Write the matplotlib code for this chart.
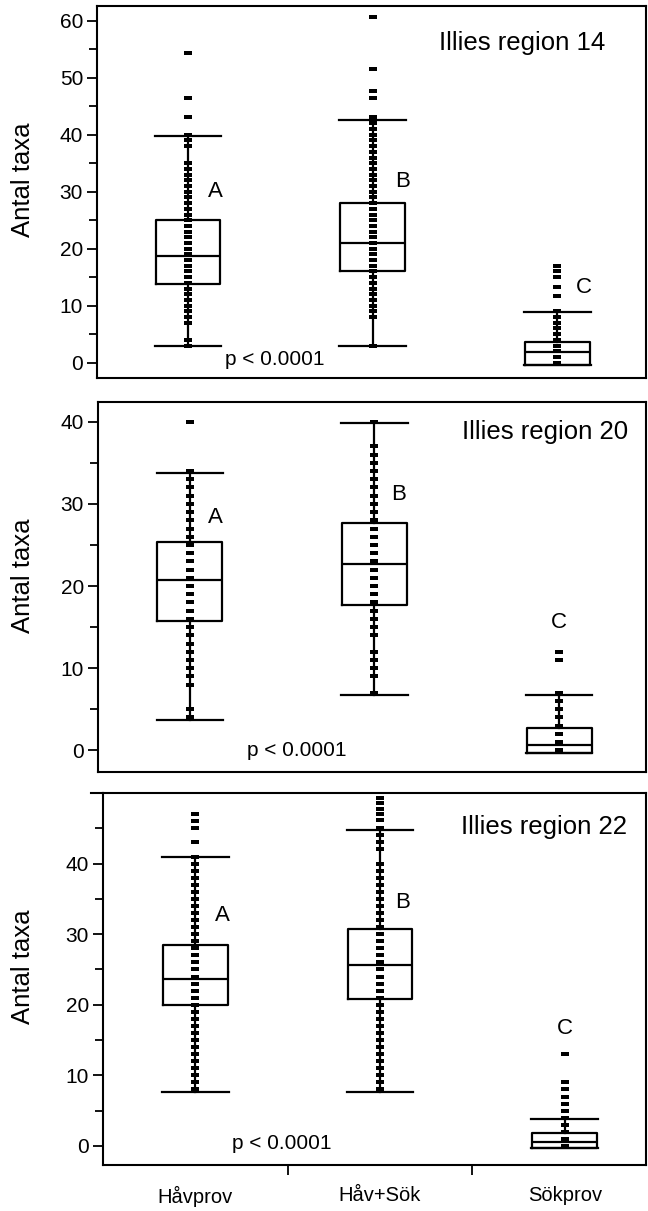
import matplotlib.pyplot as plt
from matplotlib.lines import Line2D

plt.rcParams['font.family'] = ['Liberation Sans', 'DejaVu Sans']

groups = ['Håvprov', 'Håv+Sök', 'Sökprov']
regions = ['Illies region 14', 'Illies region 20', 'Illies region 22']
letters = ['A', 'B', 'C']

# unique values seen as dots in each column
top_hav = [3, 4, 7, 8, 9, 10, 11, 12, 13, 14, 15, 16, 17, 18, 19, 20, 21, 22, 23, 24, 25,
           26, 27, 28, 29, 30, 31, 32, 33, 34, 35, 38, 39, 40, 43.1, 46.4, 54.4]
top_havsok = [3, 8, 9, 10, 11, 12, 13, 14, 15, 16, 17, 18, 19, 20, 21, 22, 23, 24, 25, 26,
              27, 28, 29, 30, 31, 32, 33, 34, 35, 36, 37, 38, 39, 40, 41, 42, 43.2,
              46.5, 47.7, 51.5, 60.6]
top_sok = [0, 1, 2, 3, 4, 5, 6, 7, 8, 9, 11.7, 13.3, 15, 16, 17]

mid_hav = [4, 5, 8, 9, 10, 11, 12, 13, 14, 15, 16, 17, 18, 19, 20, 21, 22, 23, 24, 25, 26,
           27, 28, 29, 30, 31, 32, 33, 34, 40]
mid_havsok = [7, 9, 10, 11, 12, 14, 15, 16, 17, 18, 19, 20, 21, 22, 23, 24, 25, 26, 27, 28,
              29, 30, 31, 32, 33, 34, 35, 36, 37, 40]
mid_sok = [0, 1, 2, 3, 4, 5, 6, 7, 11, 12]

bot_hav = [8, 9, 10, 11, 12, 13, 14, 15, 16, 17, 18, 19, 20, 21, 22, 23, 24, 25, 26, 27, 28,
           29, 30, 31, 32, 33, 34, 35, 36, 37, 38, 39, 40, 41, 43, 45, 46, 47]
bot_havsok = [8, 9, 10, 11, 12, 13, 14, 15, 16, 17, 18, 19, 20, 21, 22, 23, 24, 25, 26, 27,
              28, 29, 30, 31, 32, 33, 34, 35, 36, 37, 38, 39, 40, 42, 43, 44, 45, 46.2,
              47, 47.8, 48.6, 49.3]
bot_sok = [0, 1, 2, 3, 4, 5, 6, 7, 8, 9, 13]

# box statistics per panel: Håvprov, Håv+Sök, Sökprov
top_med = [18.8, 21.0, 1.9]
top_q1 = [13.75, 16.0, -0.5]
top_q3 = [25.0, 28.0, 3.7]
top_lo = [3.0, 3.0, -0.5]
top_hi = [39.8, 42.6, 8.8]

mid_med = [20.7, 22.7, 0.7]
mid_q1 = [15.8, 17.7, -0.3]
mid_q3 = [25.3, 27.7, 2.7]
mid_lo = [3.7, 6.7, -0.3]
mid_hi = [33.7, 39.8, 6.7]

bot_med = [23.7, 25.7, 0.6]
bot_q1 = [19.9, 20.8, -0.3]
bot_q3 = [28.4, 30.7, 1.8]
bot_lo = [7.6, 7.6, -0.3]
bot_hi = [40.9, 44.7, 3.8]

panels = [
    dict(pts=[top_hav, top_havsok, top_sok], med=top_med, q1=top_q1, q3=top_q3,
         lo=top_lo, hi=top_hi, rect=[97, 6, 646, 378], xlim=(-0.492, 2.48), ylim=(-2.7, 62.6),
         ymax_tick=60, label_y=180,
         txt=(1.36, 56.1), abc=[(0.11, 30.0, 'left'), (0.12, 31.8, 'left'), (0.10, 13.1, 'left')],
         p=(0.2, 0.5)),
    dict(pts=[mid_hav, mid_havsok, mid_sok], med=mid_med, q1=mid_q1, q3=mid_q3,
         lo=mid_lo, hi=mid_hi, rect=[98, 402, 646, 772], xlim=(-0.497, 2.47), ylim=(-2.64, 42.4),
         ymax_tick=40, label_y=576,
         txt=(1.475, 38.8), abc=[(0.10, 28.4, 'left'), (0.09, 31.1, 'left'), (0.0, 15.6, 'center')],
         p=(0.31, 0.0)),
    dict(pts=[bot_hav, bot_havsok, bot_sok], med=bot_med, q1=bot_q1, q3=bot_q3,
         lo=bot_lo, hi=bot_hi, rect=[103, 793, 646, 1165], xlim=(-0.5, 2.44), ylim=(-2.7, 50.0),
         ymax_tick=40, label_y=967,
         txt=(1.44, 45.2), abc=[(0.106, 32.7, 'left'), (0.08, 34.5, 'left'), (0.0, 16.7, 'center')],
         p=(0.2, 0.4)),
]

# small flat rectangle used as the dot marker
dot = [(-1, -0.62), (1, -0.62), (1, 0.62), (-1, 0.62), (-1, -0.62)]

W, H = 648, 1211
fig = plt.figure(figsize=(W / 100, H / 100), dpi=100)

lw = 1.6
for i, pn in enumerate(panels):
    x0, y0, x1, y1 = pn['rect']
    ax = fig.add_axes([x0 / W, 1 - y1 / H, (x1 - x0) / W, (y1 - y0) / H])
    stats = []
    for k in range(3):
        stats.append(dict(med=pn['med'][k], q1=pn['q1'][k], q3=pn['q3'][k],
                          whislo=pn['lo'][k], whishi=pn['hi'][k], fliers=[]))
    ax.bxp(stats, positions=[0, 1, 2], widths=0.35, capwidths=0.36, showfliers=False,
           boxprops=dict(color='black', linewidth=lw),
           medianprops=dict(color='black', linewidth=lw),
           whiskerprops=dict(color='black', linewidth=lw),
           capprops=dict(color='black', linewidth=lw))
    for k in range(3):
        ax.plot([k] * len(pn['pts'][k]), pn['pts'][k], linestyle='none', marker=dot,
                color='black', markersize=5.3, markeredgewidth=0, zorder=3, clip_on=False)

    ax.set_xlim(*pn['xlim'])
    ax.set_ylim(*pn['ylim'])
    ax.set_yticks(list(range(0, pn['ymax_tick'] + 1, 10)))
    ax.set_yticks([v + 5 for v in range(0, pn['ymax_tick'], 10)] +
                  ([pn['ymax_tick'] + 5] if pn['ylim'][1] > pn['ymax_tick'] + 5 else []),
                  minor=True)
    ax.tick_params(axis='y', which='major', length=7, width=1.3, labelsize=15, pad=3)
    ax.tick_params(axis='y', which='minor', length=5.5, width=1.3)
    for s in ax.spines.values():
        s.set_linewidth(1.5)

    if i < 2:
        ax.set_xticks([])
    else:
        ax.set_xticks([0.5, 1.5])
        ax.set_xticklabels([])
        ax.set_xticks([0, 1, 2], minor=True)
        ax.set_xticklabels(groups, minor=True)
        ax.tick_params(axis='x', which='major', length=7, width=1.3)
        ax.tick_params(axis='x', which='minor', length=0, labelsize=14.5, pad=15)

    ax.text(pn['txt'][0], pn['txt'][1], regions[i], fontsize=18.5, ha='left', va='center')
    for k, (tx, ty, ha) in enumerate(pn['abc']):
        ax.text(k + tx, ty, letters[k], fontsize=16, ha=ha, va='center')
    ax.text(pn['p'][0], pn['p'][1], 'p < 0.0001', fontsize=15, ha='left', va='center')

    fig.text(23 / W, 1 - pn['label_y'] / H, 'Antal taxa', rotation=90, fontsize=18.5,
             ha='center', va='center')

# top border of the lowest panel reaches a bit left of its axis
fig.add_artist(Line2D([91 / W, 103 / W], [1 - 793 / H, 1 - 793 / H], color='black',
                      linewidth=1.5))

fig.savefig('out.png', dpi=100)
